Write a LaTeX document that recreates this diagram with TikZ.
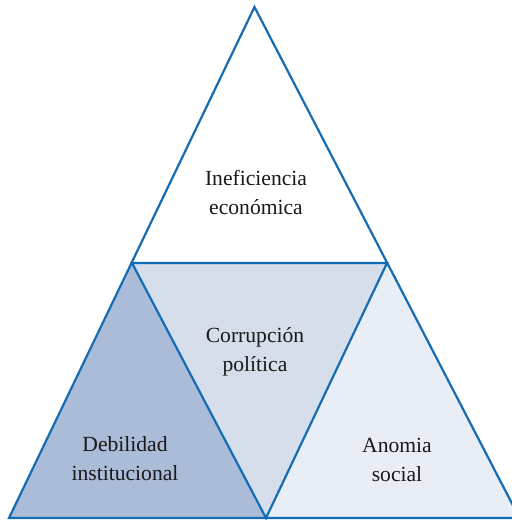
\documentclass[tikz,border=0pt]{standalone}
\usepackage{fontspec}
\setmainfont{Liberation Serif}
\usepackage{tikz}
\definecolor{edgeblue}{RGB}{20,108,180}
\definecolor{darkfill}{RGB}{170,188,216}
\definecolor{midfill}{RGB}{214,222,235}
\definecolor{lightfill}{RGB}{233,237,246}
\tikzset{label text/.style={align=center, font=\fontsize{10.8}{14.5}\selectfont, text=black!90}}
\begin{document}
\begin{tikzpicture}[x=0.5pt, y=-0.5pt, line join=miter]
\useasboundingbox (0,0) rectangle (512,520);
\clip (0,0) rectangle (512,520);
\coordinate (A) at (254.5,7);
\coordinate (L) at (9,518);
\coordinate (R) at (519.5,518);
\coordinate (ML) at (132,263);
\coordinate (MR) at (387,263);
\coordinate (MB) at (266,518);

\fill[darkfill] (L)--(ML)--(MB)--cycle;
\fill[midfill] (ML)--(MR)--(MB)--cycle;
\fill[lightfill] (MB)--(MR)--(R)--cycle;
\draw[edgeblue, line width=1.1pt] (A)--(L)--(R)--cycle;
\draw[edgeblue, line width=1.1pt] (ML)--(MR)--(MB)--cycle;

\node[label text] (econ) at (256,192) {Ineficiencia\\económica};
\node[label text] (corr) at (255,352) {Corrupción\\política};
\node[label text] (debil) at (125,459) {Debilidad\\institucional};
\node[label text] (anom) at (397,460) {Anomia\\social};
\end{tikzpicture}
\end{document}
